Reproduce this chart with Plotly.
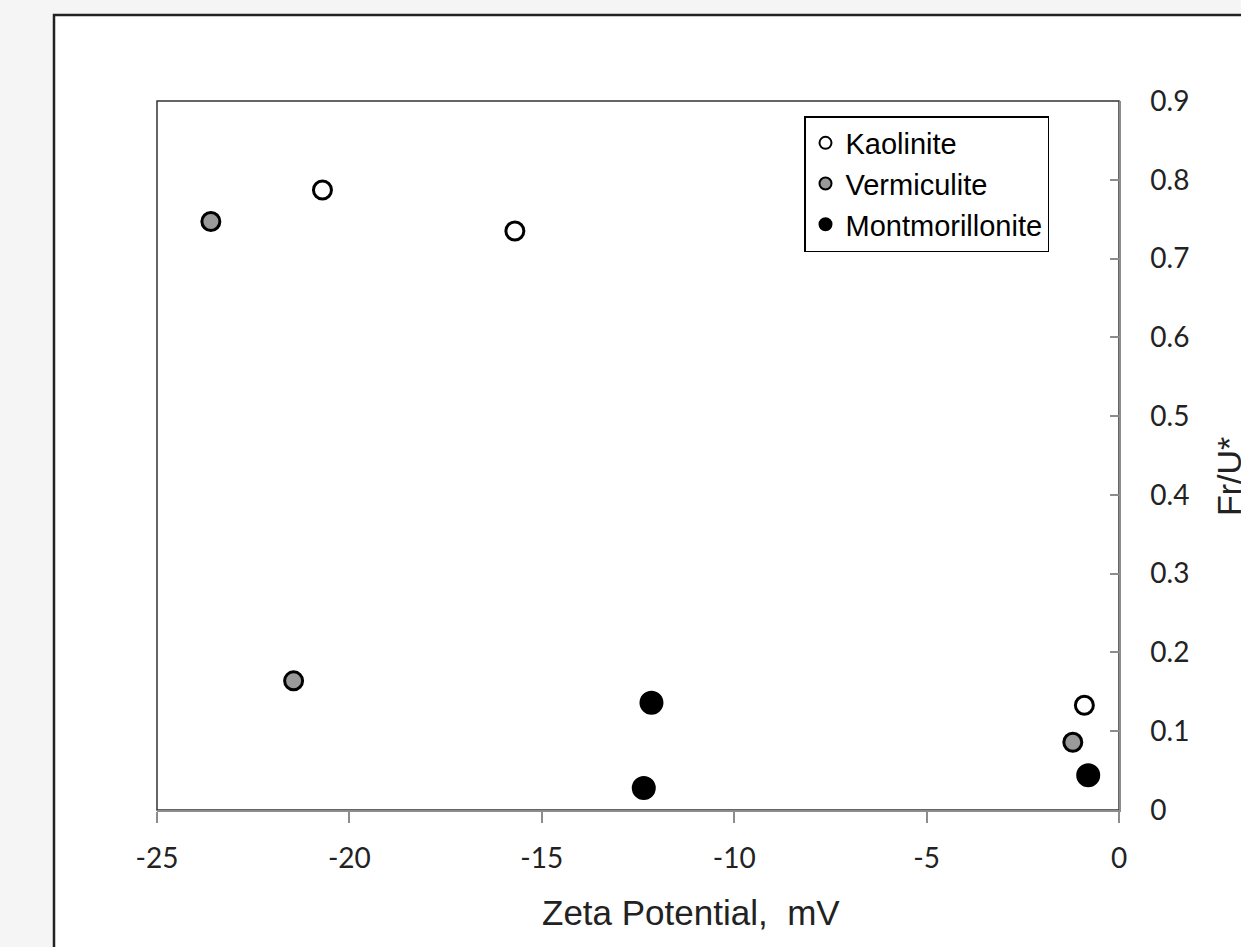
import plotly.graph_objects as go

# Data
kaolinite_x = [-20.7, -15.7, -0.9]
kaolinite_y = [0.787, 0.735, 0.133]
vermiculite_x = [-23.6, -21.45, -1.2]
vermiculite_y = [0.747, 0.164, 0.086]
montmorillonite_x = [-12.15, -12.35, -0.8]
montmorillonite_y = [0.136, 0.028, 0.044]

x_ticks = [-25, -20, -15, -10, -5, 0]
y_ticks = [0, 0.1, 0.2, 0.3, 0.4, 0.5, 0.6, 0.7, 0.8, 0.9]

W, H = 1241, 947
L, T = 157, 101
R = W - 1119
B = H - 810
pw, ph = W - L - R, H - T - B

def px_x(p):
    return (p - L) / pw

def px_y(p):
    return (H - B - p) / ph

fig = go.Figure()
fig.add_trace(go.Scatter(
    x=kaolinite_x, y=kaolinite_y, mode="markers", name="Kaolinite",
    marker=dict(symbol="circle", size=18, color="white",
                line=dict(color="black", width=3))))
fig.add_trace(go.Scatter(
    x=vermiculite_x, y=vermiculite_y, mode="markers", name="Vermiculite",
    marker=dict(symbol="circle", size=18, color="#9a9a9a",
                line=dict(color="black", width=3))))
fig.add_trace(go.Scatter(
    x=montmorillonite_x, y=montmorillonite_y, mode="markers", name="Montmorillonite",
    marker=dict(symbol="circle", size=22, color="black",
                line=dict(color="black", width=2))))

shapes = [
    dict(type="rect", xref="paper", yref="paper",
         x0=px_x(54), x1=px_x(1300), y0=px_y(15), y1=px_y(1000),
         fillcolor="white", line=dict(color="#222222", width=2.5), layer="below"),
    dict(type="rect", xref="paper", yref="paper", x0=0, x1=1, y0=0, y1=1,
         fillcolor="rgba(0,0,0,0)", line=dict(color="#333333", width=1.5), layer="below"),
]

fig.update_layout(
    width=W, height=H,
    margin=dict(l=L, r=R, t=T, b=B, pad=0),
    paper_bgcolor="#f5f5f5", plot_bgcolor="white",
    shapes=shapes,
    showlegend=True,
    legend=dict(x=px_x(804), y=px_y(116), xanchor="left", yanchor="top",
                bgcolor="white", bordercolor="black", borderwidth=1.5,
                font=dict(family="Liberation Sans, Arial", size=29, color="black"),
                itemsizing="constant", tracegroupgap=0),
    xaxis=dict(range=[-25, 0], tickvals=x_ticks, ticktext=[str(v) for v in x_ticks],
               showgrid=False, zeroline=False, showline=True, linecolor="#8c8c8c",
               linewidth=1.5, ticks="outside", ticklen=11, tickcolor="#8c8c8c",
               tickwidth=1.5, ticklabelstandoff=12,
               tickfont=dict(family="Lato, Carlito, Calibri", size=28, color="#222222")),
    yaxis=dict(range=[0, 0.9], tickvals=y_ticks, ticktext=[f"{v:g}" for v in y_ticks],
               side="right", showgrid=False, zeroline=False, showline=True,
               linecolor="#8c8c8c", linewidth=1.5, ticks="inside", ticklen=9,
               tickcolor="#8c8c8c", tickwidth=1.5, ticklabelstandoff=24,
               tickfont=dict(family="Lato, Carlito, Calibri", size=28, color="#222222")),
    annotations=[
        dict(text="Zeta Potential,  mV", xref="paper", yref="paper",
             x=px_x(691), y=px_y(912), showarrow=False,
             xanchor="center", yanchor="middle",
             font=dict(family="Liberation Sans, Arial", size=35, color="#222222")),
        dict(text="Fr/U*", xref="paper", yref="paper",
             x=px_x(1229), y=px_y(477), textangle=-90, showarrow=False,
             xanchor="center", yanchor="middle",
             font=dict(family="Liberation Sans, Arial", size=34, color="#222222")),
    ],
)

fig.write_html("out.html", config={"displayModeBar": False},
               post_script="document.body.style.margin='0';document.body.style.overflow='hidden';")
